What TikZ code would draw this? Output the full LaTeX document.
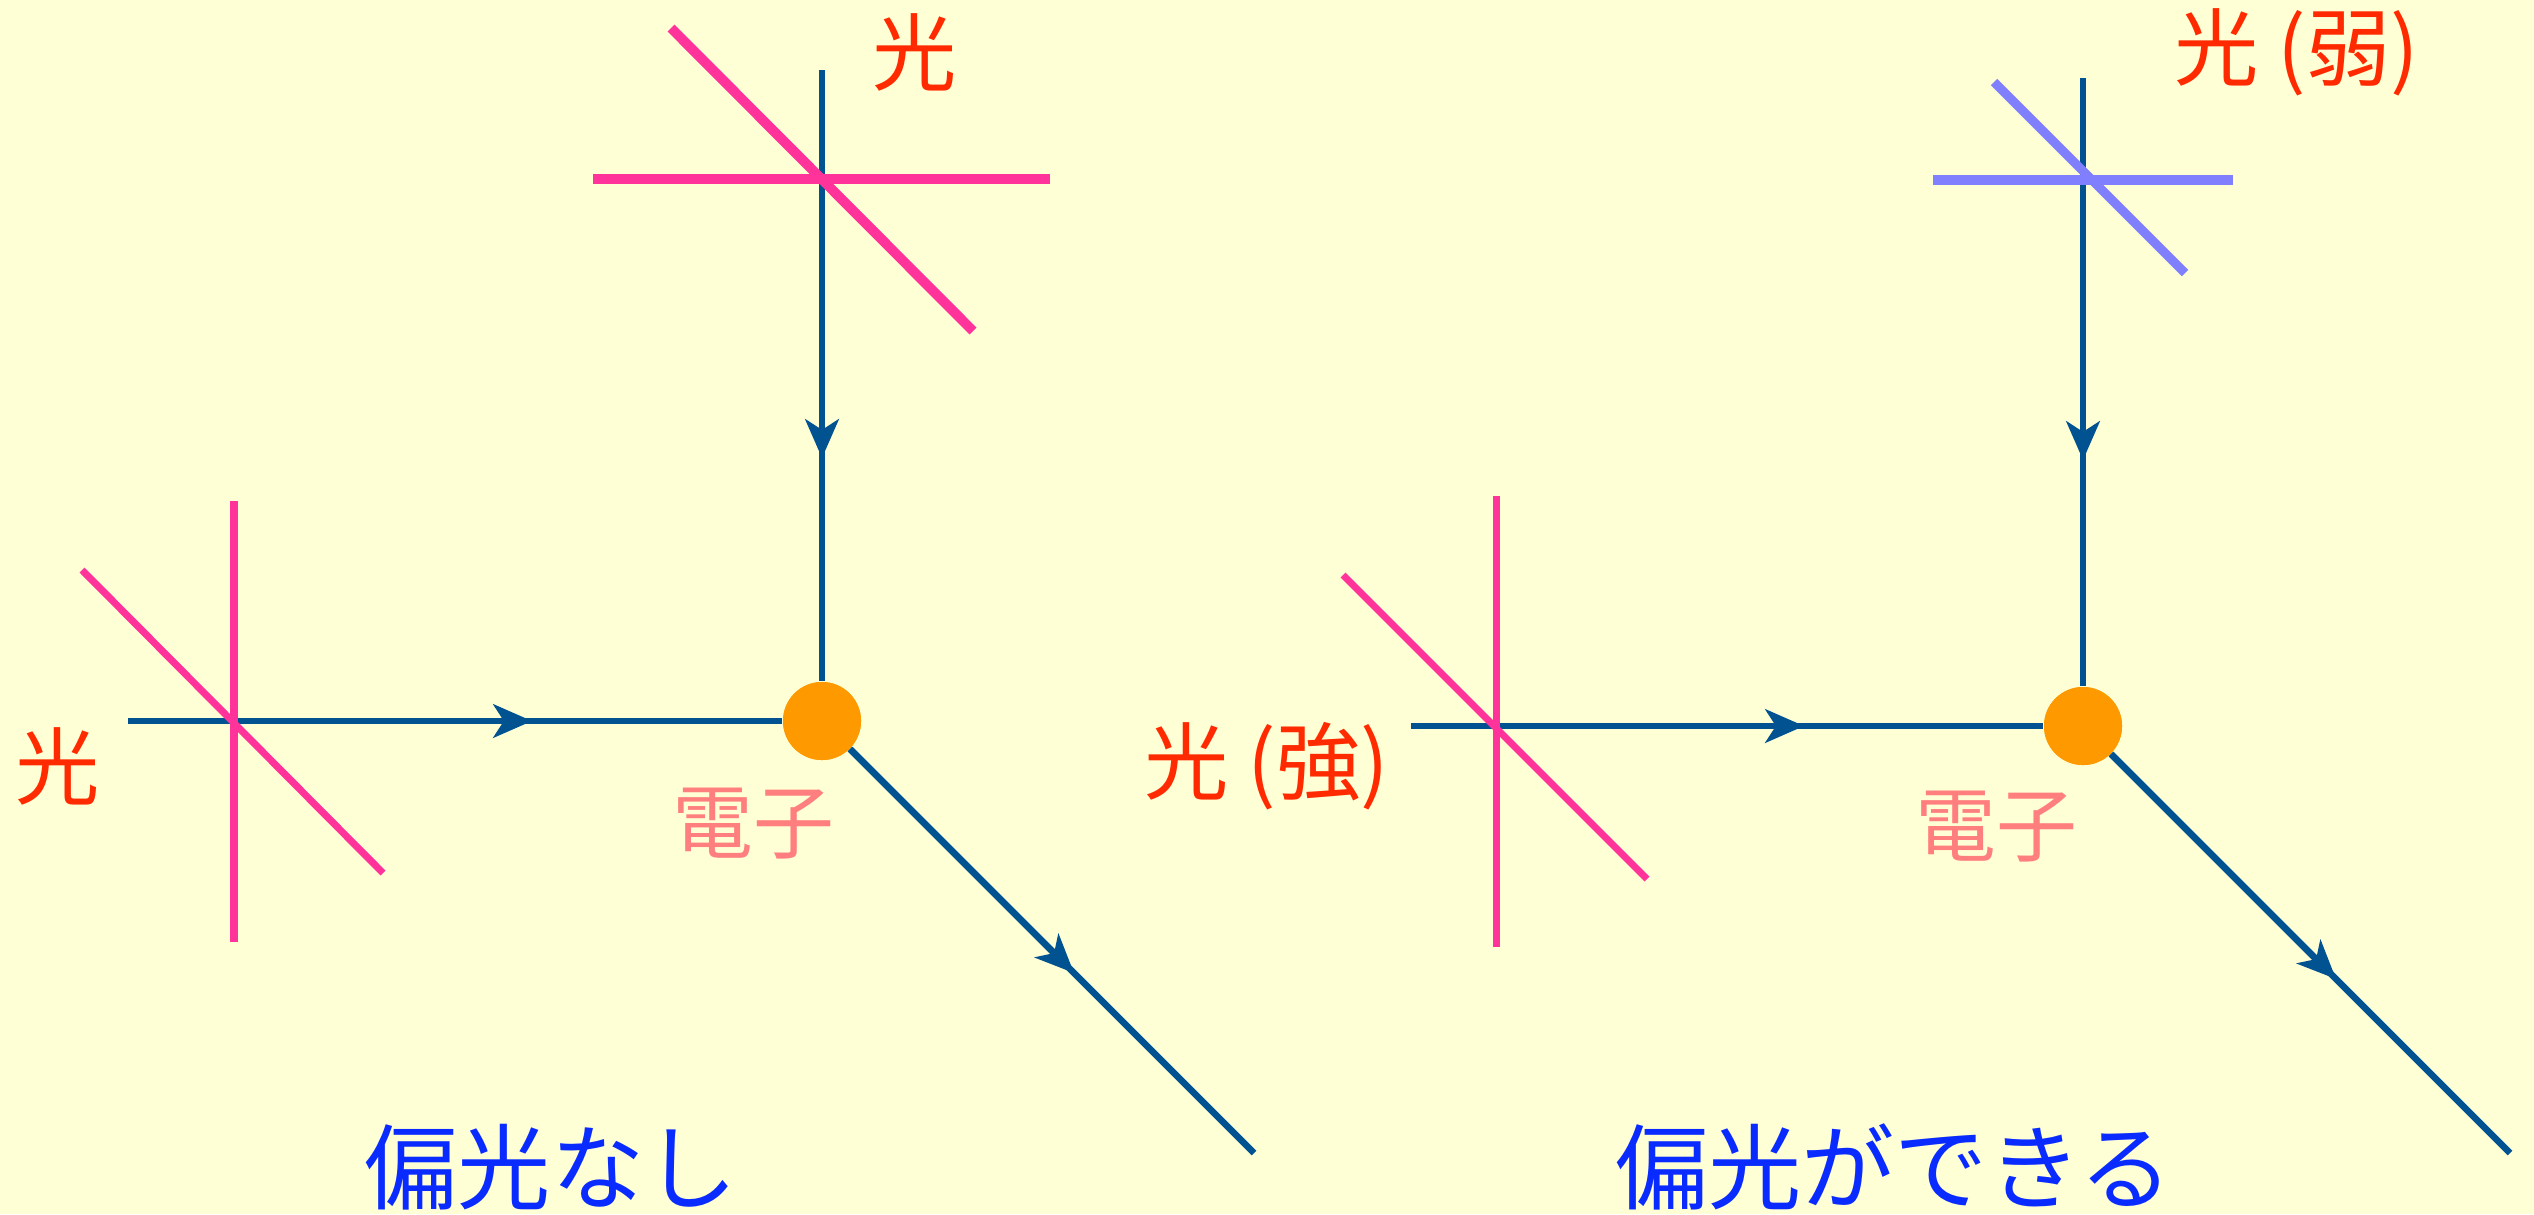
\documentclass[tikz,border=0pt]{standalone}
\usepackage{fontspec}
\newfontfamily\jp{Noto Sans CJK JP}
\usetikzlibrary{arrows.meta}
\definecolor{bgc}{HTML}{FFFFD5}
\definecolor{ray}{HTML}{005291}
\definecolor{pinkc}{HTML}{FF3399}
\definecolor{lblue}{HTML}{8080FF}
\definecolor{orangec}{HTML}{FF9900}
\definecolor{redc}{HTML}{FF2A00}
\definecolor{salmon}{HTML}{FF7F7F}
\definecolor{titlec}{HTML}{0A2BFF}
\tikzset{
  rayline/.style={draw=ray, line width=1.9pt},
  rayarrow/.style={rayline, -{Stealth[length=11pt,width=9.5pt,inset=3pt]}},
  pol/.style={draw=pinkc, line width=2.8pt},
  polthin/.style={draw=pinkc, line width=2pt},
  polweak/.style={draw=lblue, line width=2.6pt},
  electron/.style={circle, fill=orangec, minimum size=0.78cm, inner sep=0pt},
  lbl/.style={text=redc, font=\jp\fontsize{24}{28}\selectfont, inner sep=0pt},
  elbl/.style={text=salmon, font=\jp\fontsize{23}{27}\selectfont, inner sep=0pt},
  ttl/.style={text=titlec, font=\jp\fontsize{26.5}{30}\selectfont, inner sep=0pt},
}
\begin{document}
\begin{tikzpicture}[x=0.01cm, y=-0.01cm]
\fill[bgc] (0,0) rectangle (2534,1214);
\useasboundingbox (0,0) rectangle (2534,1214);
\begin{scope}
\clip (0,0) rectangle (2534,1214);
% ---------- left panel ----------
\node[electron] (e1) at (822,721) {};
\coordinate (t1) at (822,70);
\coordinate (a1v) at (822,458);
\coordinate (l1) at (128,721);
\coordinate (a1h) at (532,721);
\coordinate (a1d) at (1074,973);
\coordinate (o1) at (1254,1153);
\draw[rayline] (t1) -- (e1);
\draw[rayarrow] (t1) -- (a1v);
\draw[rayline] (l1) -- (e1);
\draw[rayarrow] (l1) -- (a1h);
\draw[rayline] (e1) -- (o1);
\draw[rayarrow] (e1) -- (a1d);
% top cross
\coordinate (p1a) at (593,179);
\coordinate (p1b) at (1050,179);
\coordinate (p1c) at (671,28);
\coordinate (p1d) at (973,331);
\draw[pol] (p1a) -- (p1b);
\draw[pol] (p1c) -- (p1d);
% left cross
\coordinate (q1a) at (234,501);
\coordinate (q1b) at (234,942);
\coordinate (q1c) at (82,570);
\coordinate (q1d) at (383,873);
\draw[polthin] (q1a) -- (q1b);
\draw[polthin] (q1c) -- (q1d);
\node[electron] at (e1) {};
% labels
\node[lbl] (L1) at (915,52) {光};
\node[lbl] (L2) at (58,766) {光};
\node[elbl] (E1) at (753,824) {電子};
\node[ttl] (T1) at (551,1167) {偏光なし};
% ---------- right panel ----------
\node[electron] (e2) at (2083,726) {};
\coordinate (t2) at (2083,78);
\coordinate (a2v) at (2083,460);
\coordinate (l2) at (1411,726);
\coordinate (a2h) at (1804,726);
\coordinate (a2d) at (2336,979);
\coordinate (o2) at (2510,1153);
\draw[rayline] (t2) -- (e2);
\draw[rayarrow] (t2) -- (a2v);
\draw[rayline] (l2) -- (e2);
\draw[rayarrow] (l2) -- (a2h);
\draw[rayline] (e2) -- (o2);
\draw[rayarrow] (e2) -- (a2d);
% top weak cross
\coordinate (p2a) at (1933,180);
\coordinate (p2b) at (2233,180);
\coordinate (p2c) at (1994,82);
\coordinate (p2d) at (2185,273);
\draw[polweak] (p2a) -- (p2b);
\draw[polweak] (p2c) -- (p2d);
% left strong cross
\coordinate (q2a) at (1496,496);
\coordinate (q2b) at (1496,947);
\coordinate (q2c) at (1343,575);
\coordinate (q2d) at (1647,879);
\draw[polthin] (q2a) -- (q2b);
\draw[polthin] (q2c) -- (q2d);
\node[electron] at (e2) {};
% labels
\node[lbl] (L3) at (2297,52) {光 (弱)};
\node[lbl] (L4) at (1267,766) {光 (強)};
\node[elbl] (E2) at (1996,827) {電子};
\node[ttl] (T2) at (1894,1167) {偏光ができる};
\end{scope}
\end{tikzpicture}
\end{document}
